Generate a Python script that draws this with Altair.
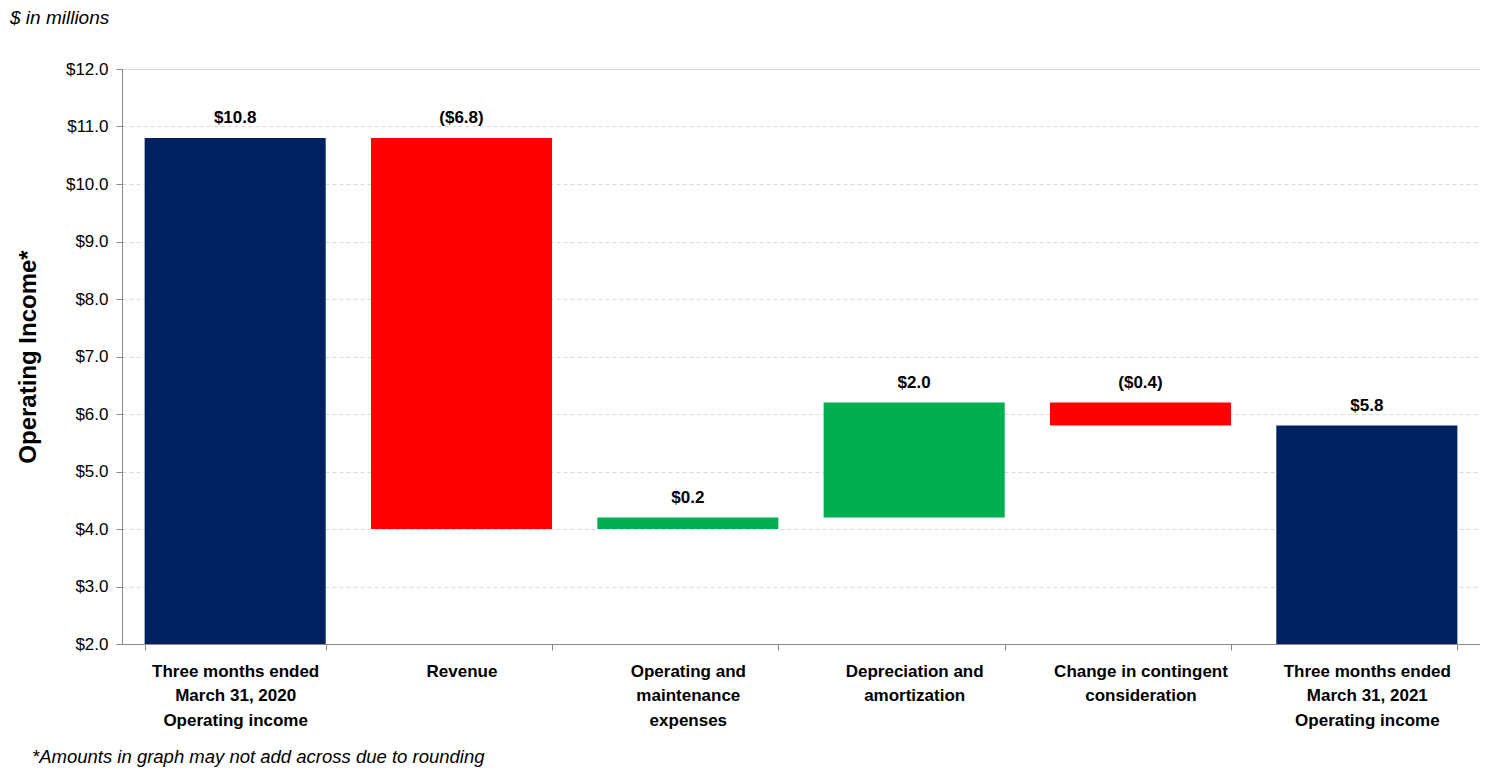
import altair as alt
import pandas as pd

categories = [
    "Three months ended|March 31, 2020|Operating income",
    "Revenue",
    "Operating and|maintenance|expenses",
    "Depreciation and|amortization",
    "Change in contingent|consideration",
    "Three months ended|March 31, 2021|Operating income",
]
amounts = [10.8, -6.8, 0.2, 2.0, -0.4, 5.8]
kinds = ["total", "change", "change", "change", "change", "total"]
labels = ["$10.8", "($6.8)", "$0.2", "$2.0", "($0.4)", "$5.8"]

rows = []
running = 0.0
for c, a, k, l in zip(categories, amounts, kinds, labels):
    if k == "total":
        start, end = 0.0, a
        running = a
        color = "#002060"
    else:
        start, end = running, running + a
        running = end
        color = "#00B050" if a > 0 else "#FF0000"
    rows.append({"cat": c, "start": round(start, 2), "end": round(end, 2),
                 "top": round(max(start, end), 2), "label": l, "color": color})
df = pd.DataFrame(rows)

FONT = "Liberation Sans"

x = alt.X("cat:N", sort=categories, title=None,
          scale=alt.Scale(paddingInner=0.2, paddingOuter=0.1),
          axis=alt.Axis(labelExpr="split(datum.label, '|')", labelAngle=0,
                        labelFont=FONT, labelFontWeight="bold", labelFontSize=17,
                        labelColor="#000000", labelLineHeight=24.5, labelPadding=13,
                        labelBaseline="top",
                        tickBand="extent", tickSize=6, tickColor="#888888",
                        domainColor="#888888", grid=False))
y_scale = alt.Scale(domain=[2, 12], nice=False, zero=False)

bars = alt.Chart(df).mark_bar(clip=True).encode(
    x=x,
    y=alt.Y("start:Q", scale=y_scale, title="Operating Income*",
            axis=alt.Axis(values=[2, 3, 4, 5, 6, 7, 8, 9, 10, 11, 12],
                          labelExpr="'$' + format(datum.value, '.1f')",
                          labelFont=FONT, labelFontSize=17, labelColor="#000000",
                          labelPadding=8, tickSize=6, tickColor="#888888",
                          domainColor="#888888", gridColor="#d9d9d9",
                          gridDash=[4, 3], titleFont=FONT, titleFontSize=24,
                          titleFontWeight="bold", titleColor="#000000",
                          titlePadding=25)),
    y2="end:Q",
    color=alt.Color("color:N", scale=None),
)

text = alt.Chart(df).mark_text(font=FONT, fontSize=17, fontWeight="bold",
                               dy=-11, baseline="bottom", color="#000000").encode(
    x=alt.X("cat:N", sort=categories),
    y=alt.Y("top:Q", scale=y_scale),
    text="label:N",
)

units = alt.Chart(pd.DataFrame({"t": ["$ in millions"]})).mark_text(
    font=FONT, fontSize=19, fontStyle="italic", align="left", baseline="middle",
    color="#000000").encode(x=alt.value(-112), y=alt.value(-51), text="t:N")

foot = alt.Chart(pd.DataFrame({"t": ["*Amounts in graph may not add across due to rounding"]})).mark_text(
    font=FONT, fontSize=18.5, fontStyle="italic", align="left", baseline="middle",
    color="#000000").encode(x=alt.value(-90), y=alt.value(688), text="t:N")

chart = alt.layer(bars, text, units, foot).properties(
    width=1358, height=575,
    autosize=alt.AutoSizeParams(type="none"),
    padding={"left": 114, "top": 61, "right": 0, "bottom": 130},
).configure_view(stroke=None).configure(background="white")

chart.save("out.html", embed_options={"renderer": "svg", "actions": False})
